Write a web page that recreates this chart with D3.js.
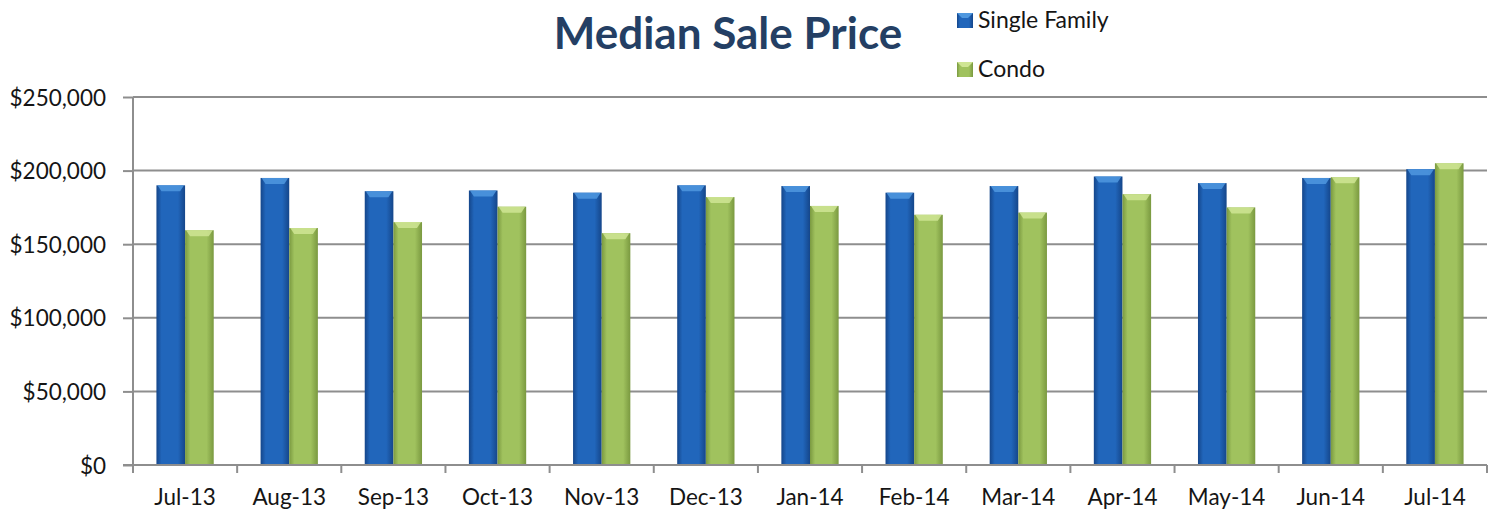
<!DOCTYPE html>
<html>
<head>
<meta charset="utf-8">
<script src="https://cdn.jsdelivr.net/npm/d3@7"></script>
<style>
  body { margin: 0; background: #fff; }
  svg { display: block; font-family: Lato, "Open Sans", sans-serif; }
</style>
</head>
<body>
<div id="chart"></div>
<script>
const months = ["Jul-13", "Aug-13", "Sep-13", "Oct-13", "Nov-13", "Dec-13", "Jan-14",
                "Feb-14", "Mar-14", "Apr-14", "May-14", "Jun-14", "Jul-14"]
const singleFamily = [190000, 195000, 186000, 186500, 185000, 190000, 189500,
                      185000, 189500, 196000, 191500, 195000, 201000]
const condo = [159500, 161000, 165000, 175500, 157500, 182000, 176000,
               170000, 171500, 184000, 175000, 195500, 205000]
const yTicks = [0, 50000, 100000, 150000, 200000, 250000]
const seriesNames = ["Single Family", "Condo"]

const width = 1495, height = 514
const margin = { top: 97, right: 8, bottom: 49, left: 133 }
const innerW = width - margin.left - margin.right
const innerH = height - margin.top - margin.bottom

const svg = d3.select("#chart").append("svg")
    .attr("width", width)
    .attr("height", height)

// gradients for the bevelled columns
const defs = svg.append("defs")
const palettes = [
    { id: "gradBlue", edge: "#15468a", mid: "#2166bb", top: "#4f98df" },
    { id: "gradGreen", edge: "#7a9940", mid: "#a0c25e", top: "#cfe594" }
]
palettes.forEach(p => {
    const g = defs.append("linearGradient").attr("id", p.id)
        .attr("x1", "0%").attr("x2", "100%").attr("y1", "0%").attr("y2", "0%")
    g.append("stop").attr("offset", "0%").attr("stop-color", p.edge)
    g.append("stop").attr("offset", "18%").attr("stop-color", p.mid)
    g.append("stop").attr("offset", "75%").attr("stop-color", p.mid)
    g.append("stop").attr("offset", "100%").attr("stop-color", p.edge)
})

const graph = svg.append("g")
    .attr("transform", "translate(" + margin.left + "," + margin.top + ")")

const x = d3.scaleBand()
    .domain(months)
    .range([0, innerW])
    .paddingInner(0)
    .paddingOuter(0)

const xInner = d3.scaleBand()
    .domain(seriesNames)
    .range([x.bandwidth() * 0.225, x.bandwidth() * 0.775])

const y = d3.scaleLinear()
    .domain([0, 250000])
    .range([innerH, 0])

// gridlines
graph.append("g")
    .selectAll("line")
    .data(yTicks.filter(d => d > 0))
    .enter()
    .append("line")
    .attr("x1", 0)
    .attr("x2", innerW)
    .attr("y1", d => y(d))
    .attr("y2", d => y(d))
    .style("stroke", "#8e8e8e")
    .style("stroke-width", 2)

// y axis
const yAxis = graph.append("g")
    .call(d3.axisLeft(y)
        .tickValues(yTicks)
        .tickSize(10)
        .tickPadding(17)
        .tickFormat(d => "$" + d3.format(",")(d)))
yAxis.attr("font-family", null)
yAxis.select(".domain").style("stroke", "#8e8e8e").style("stroke-width", 2)
    .attr("d", "M0," + innerH + "V0")
yAxis.selectAll(".tick line").style("stroke", "#8e8e8e").style("stroke-width", 2)
yAxis.selectAll(".tick text")
    .style("font-size", "22.5px")
    .style("fill", "#151515")
    .attr("dy", "0.36em")

// bars
const series = [singleFamily, condo]
seriesNames.forEach((name, si) => {
    const bars = graph.append("g")
        .selectAll("g")
        .data(months.map((m, i) => ({ month: m, value: series[si][i] })))
        .enter()
        .append("g")
        .attr("transform", d => "translate(" + (x(d.month) + xInner(name)) + ",0)")

    bars.append("rect")
        .attr("x", 0)
        .attr("y", d => y(d.value))
        .attr("width", xInner.bandwidth())
        .attr("height", d => innerH - y(d.value))
        .style("fill", "url(#" + palettes[si].id + ")")

    // lighter bevel on top of each column
    bars.append("path")
        .attr("d", d => {
            const w = xInner.bandwidth(), t = y(d.value)
            return "M1," + t + "H" + (w - 1) + "L" + (w - 5) + "," + (t + 6) + "H5Z"
        })
        .style("fill", palettes[si].top)
        .style("opacity", 0.85)
})

// x axis
const xAxis = graph.append("g")
    .attr("transform", "translate(0," + innerH + ")")
    .call(d3.axisBottom(x).tickSize(0).tickPadding(24))
xAxis.attr("font-family", null)
xAxis.select(".domain").style("stroke", "#8e8e8e").style("stroke-width", 2)
    .attr("d", "M-10,0H" + innerW)
xAxis.selectAll(".tick text")
    .style("font-size", "22.5px")
    .style("fill", "#151515")

// category boundary ticks
graph.append("g")
    .selectAll("line")
    .data(d3.range(months.length + 1))
    .enter()
    .append("line")
    .attr("x1", i => i * x.step())
    .attr("x2", i => i * x.step())
    .attr("y1", innerH)
    .attr("y2", innerH + 8)
    .style("stroke", "#8e8e8e")
    .style("stroke-width", 2)

// title
svg.append("text")
    .attr("x", 728)
    .attr("y", 49)
    .attr("text-anchor", "middle")
    .style("font-size", "44px")
    .style("font-weight", "bold")
    .style("fill", "#243f64")
    .text("Median Sale Price")

// legend
const legend = svg.append("g")
    .selectAll("g")
    .data(seriesNames)
    .enter()
    .append("g")
    .attr("transform", (d, i) => "translate(957," + (13 + i * 49) + ")")

legend.append("rect")
    .attr("width", 16)
    .attr("height", 15)
    .style("fill", (d, i) => "url(#" + palettes[i].id + ")")
legend.append("path")
    .attr("d", "M0,0H16L11,5H5Z")
    .style("fill", (d, i) => palettes[i].top)
legend.append("text")
    .attr("x", 21)
    .attr("y", 15)
    .style("font-size", "23px")
    .style("fill", "#151515")
    .text(d => d)
</script>
</body>
</html>
